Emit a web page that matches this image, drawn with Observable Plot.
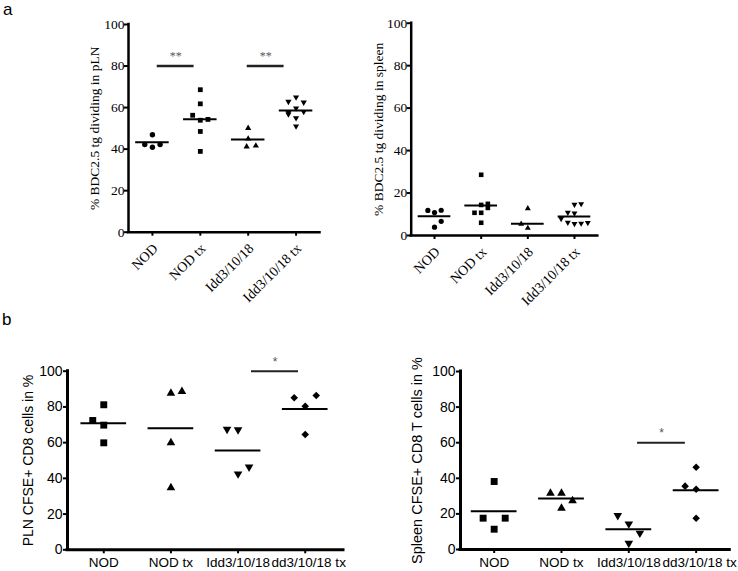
<!DOCTYPE html>
<html>
<head>
<meta charset="utf-8">
<script src="https://cdn.jsdelivr.net/npm/d3@7"></script>
<script src="https://cdn.jsdelivr.net/npm/@observablehq/plot@0.6"></script>
<style>
  body { margin: 0; background: #fff; }
  #fig { position: relative; width: 738px; height: 571px; overflow: hidden; background: #fff; }
  .panel { position: absolute; }
  .lab { position: absolute; font-family: "Liberation Sans", Arial, sans-serif; font-size: 17px; line-height: normal; color: #000; }
</style>
</head>
<body>
<div id="fig">
  <div class="lab" style="left:3px;top:0px">a</div>
  <div class="lab" style="left:2px;top:309.6px">b</div>
</div>
<script>
// ---------- data ----------
const A_CATEGORIES = ["NOD", "NOD tx", "Idd3/10/18", "Idd3/10/18 tx"];
const B_TICK_LABELS = ["NOD", "NOD tx", "Idd3/10/18", "dd3/10/18 tx"];

// a, left: % BDC2.5 tg dividing in pLN
const plnValues = [
  [46.9, 42.2, 40.9, 42.2],
  [68.6, 61.8, 56.3, 53.9, 54.3, 48.5, 38.9],
  [50.1, 45.0, 41.2, 41.6],
  [65.0, 62.9, 62.5, 59.7, 57.6, 56.8, 58.0, 55.0, 51.0]
];
const plnJitter = [
  [0, -1, 0, 1],
  [0, 0, -1, 0, 1, 0, 0],
  [0, 0, -0.2, 1],
  [0, -1, 1, 0, -1, -1, 1, 0, 0]
];
const plnMeans = [43.3, 54.4, 44.6, 58.6];
const plnSig = [
  {from: 0.1, to: 0.87, level: 80, mark: "**"},
  {from: 1.98, to: 2.75, level: 80, mark: "**"}
];

// a, right: % BDC2.5 tg dividing in spleen
const splValues = [
  [11.8, 10.8, 11.9, 6.7, 3.9],
  [28.6, 14.4, 14.9, 13.0, 10.7, 10.7, 6.0],
  [12.7, 5.4, 3.5],
  [14.6, 14.9, 10.8, 10.5, 7.9, 6.1, 5.5, 5.7, 6.0]
];
const splJitter = [
  [-1, 0, 1, 1, 0],
  [0, 0, 1, 1, -1, 0, 0],
  [0, -1, 0],
  [0, 1, -1, 0, -2, -1, 0, 1, 2]
];
const splMeans = [9.1, 14.1, 5.5, 9.0];

// b, left: PLN CFSE+ CD8 cells in %
const cd8PlnValues = [
  [81.2, 72.4, 69.8, 59.9],
  [87.7, 88.6, 59.9, 34.7],
  [67.5, 67.2, 42.5, 46.3],
  [85.1, 86.4, 80.4, 64.6]
];
const cd8PlnJitter = [
  [0, -1, 0, 0],
  [0, 1, 0, 0],
  [-1, 0, 0, 1],
  [-1, 1, 0, 0]
];
const cd8PlnMeans = [70.9, 68.1, 55.6, 78.9];
const cd8PlnSig = [{from: 2.2, to: 2.9, level: 100, mark: "*"}];

// b, right: Spleen CFSE+ CD8 T cells in %
const cd8SplValues = [
  [38.2, 17.6, 17.6, 11.4],
  [31.6, 31.6, 27.4, 23.2],
  [19.1, 14.4, 9.2, 3.5],
  [46.2, 35.6, 33.9, 17.6]
];
const cd8SplJitter = [
  [0, -1, 1, 0],
  [-1, 0, 1, 0],
  [-1, 0, 1, 0],
  [0, -1, 0, 0]
];
const cd8SplMeans = [21.5, 28.7, 11.4, 33.3];
const cd8SplSig = [{from: 2.13, to: 2.84, level: 60, mark: "*"}];

const Y_TICKS = [0, 20, 40, 60, 80, 100];

// ---------- symbols ----------
const sqrt3 = Math.sqrt(3);
const triangleDown = {
  draw(ctx, size) {
    const y = -Math.sqrt(size / (sqrt3 * 3));
    ctx.moveTo(0, -2 * y);
    ctx.lineTo(-sqrt3 * y, y);
    ctx.lineTo(sqrt3 * y, y);
    ctx.closePath();
  }
};

function panel(o) {
  const rows = o.values.flatMap((vs, gi) =>
    vs.map((v, j) => ({gi, value: v, x: gi + o.jitter[gi][j] * o.slotW})));
  const labelRows = o.categories.map((c, i) => ({c, i}));
  const marks = [];
  // axis lines
  marks.push(Plot.ruleY([0], {x1: () => o.xDomain[0], x2: () => o.xDomain[1], strokeWidth: o.axisW, strokeLinecap: "square"}));
  marks.push(Plot.ruleX([o.xDomain[0]], {y1: () => 0, y2: () => 100, strokeWidth: o.axisW, strokeLinecap: "square"}));
  // y axis ticks + labels
  marks.push(Plot.axisY({ticks: Y_TICKS, tickSize: 4, tickPadding: o.tickPad, strokeWidth: o.tickW, fontSize: o.yTickFont, label: null}));
  // x axis ticks
  marks.push(Plot.axisX({ticks: [0, 1, 2, 3], tickSize: 4, strokeWidth: o.tickW, tickFormat: () => "", label: null}));
  // x tick labels
  if (o.rotated) {
    marks.push(Plot.text(labelRows, {x: "i", y: () => 0, text: "c", rotate: -45, textAnchor: "end", dx: 3, dy: 14, fontSize: o.xTickFont}));
  } else {
    marks.push(Plot.text(labelRows.slice(0, 3), {x: "i", y: () => 0, text: "c", lineAnchor: "top", dy: 8, fontSize: o.xTickFont}));
    marks.push(Plot.text(labelRows.slice(3), {x: "i", y: () => 0, text: "c", lineAnchor: "top", dy: 8, dx: 3.5, fontSize: o.xTickFont}));
  }
  // y label
  marks.push(Plot.text([o.yLabel], {frameAnchor: "left", textAnchor: "middle", rotate: -90, dx: o.yLabelDx, fontSize: o.yLabelFont}));
  // significance
  if (o.sig) {
    marks.push(Plot.ruleY(o.sig, {x1: "from", x2: "to", y: "level", strokeWidth: o.sigW, stroke: "#222"}));
    marks.push(Plot.text(o.sig, {x: d => (d.from + d.to) / 2, y: "level", text: "mark", dy: o.sigDy, fontSize: 12, fill: "#555"}));
  }
  // means
  marks.push(Plot.ruleY(o.means.map((m, i) => ({i, m})), {x1: d => d.i - o.meanHalf, x2: d => d.i + o.meanHalf, y: "m", strokeWidth: 2}));
  // dots
  for (let gi = 0; gi < 4; gi++) {
    marks.push(Plot.dot(rows.filter(d => d.gi === gi), {x: "x", y: "value", symbol: o.symbols[gi], r: o.radii[gi], fill: "black", stroke: "none"}));
  }
  const svg = Plot.plot({
    width: o.width, height: o.height,
    marginLeft: o.ml, marginRight: o.mr, marginTop: o.mt, marginBottom: o.mb,
    x: {domain: o.xDomain},
    y: {domain: [0, 100]},
    style: {fontFamily: o.font, fontSize: o.yTickFont + "px", background: "transparent", overflow: "hidden", color: "black"},
    marks
  });
  const wrap = document.createElement("div");
  wrap.className = "panel";
  wrap.style.left = o.left + "px";
  wrap.style.top = o.top + "px";
  wrap.appendChild(svg);
  document.getElementById("fig").appendChild(wrap);
}

const SERIF = "'Liberation Serif', 'Times New Roman', serif";
const SANS = "'Liberation Sans', Arial, sans-serif";

panel({
  left: 0, top: 0, width: 370, height: 310, ml: 128, mr: 50.5, mt: 24, mb: 78.3,
  xDomain: [-0.5, 3.5], values: plnValues, jitter: plnJitter, slotW: 0.16,
  means: plnMeans, meanHalf: 0.35, sig: plnSig, sigW: 2.5, sigDy: -10,
  symbols: ["circle", "square", "triangle", triangleDown], radii: [2.7, 2.7, 2.3, 2.3],
  categories: A_CATEGORIES, rotated: true, font: SERIF,
  yTickFont: 13.5, xTickFont: 14, yLabelFont: 13.5, yLabel: "% BDC2.5 tg dividing in pLN", yLabelDx: -34,
  axisW: 2.5, tickW: 2, tickPad: 0
});

panel({
  left: 370, top: 0, width: 368, height: 310, ml: 40.7, mr: 140.7, mt: 22.7, mb: 75,
  xDomain: [-0.5, 3.5], values: splValues, jitter: splJitter, slotW: 0.143,
  means: splMeans, meanHalf: 0.35, sig: null,
  symbols: ["circle", "square", "triangle", triangleDown], radii: [2.6, 2.6, 2.2, 2.2],
  categories: A_CATEGORIES, rotated: true, font: SERIF,
  yTickFont: 13.5, xTickFont: 14, yLabelFont: 13.5, yLabel: "% BDC2.5 tg dividing in spleen", yLabelDx: -32.4,
  axisW: 2.5, tickW: 2, tickPad: 0
});

panel({
  left: 0, top: 300, width: 352, height: 271, ml: 67, mr: 9, mt: 70.7, mb: 21.7,
  xDomain: [-0.54, 3.57], values: cd8PlnValues, jitter: cd8PlnJitter, slotW: 0.164,
  means: cd8PlnMeans, meanHalf: 0.34, sig: cd8PlnSig, sigW: 2, sigDy: -9,
  symbols: ["square", "triangle", triangleDown, "diamond2"], radii: [3.9, 3.2, 3.2, 3.4],
  categories: B_TICK_LABELS, rotated: false, font: SANS,
  yTickFont: 14, xTickFont: 13.5, yLabelFont: 14, yLabel: "PLN CFSE+ CD8 cells in %", yLabelDx: -38.7,
  axisW: 3, tickW: 2, tickPad: 1
});

panel({
  left: 370, top: 300, width: 368, height: 271, ml: 90, mr: 8.7, mt: 71, mb: 22,
  xDomain: [-0.5, 3.5], values: cd8SplValues, jitter: cd8SplJitter, slotW: 0.164,
  means: cd8SplMeans, meanHalf: 0.34, sig: cd8SplSig, sigW: 2, sigDy: -10,
  symbols: ["square", "triangle", triangleDown, "diamond2"], radii: [3.9, 3.2, 3.2, 3.4],
  categories: B_TICK_LABELS, rotated: false, font: SANS,
  yTickFont: 14, xTickFont: 13.5, yLabelFont: 14.5, yLabel: "Spleen CFSE+ CD8 T cells in %", yLabelDx: -43.3,
  axisW: 3, tickW: 2, tickPad: 1
});
</script>
</body>
</html>
